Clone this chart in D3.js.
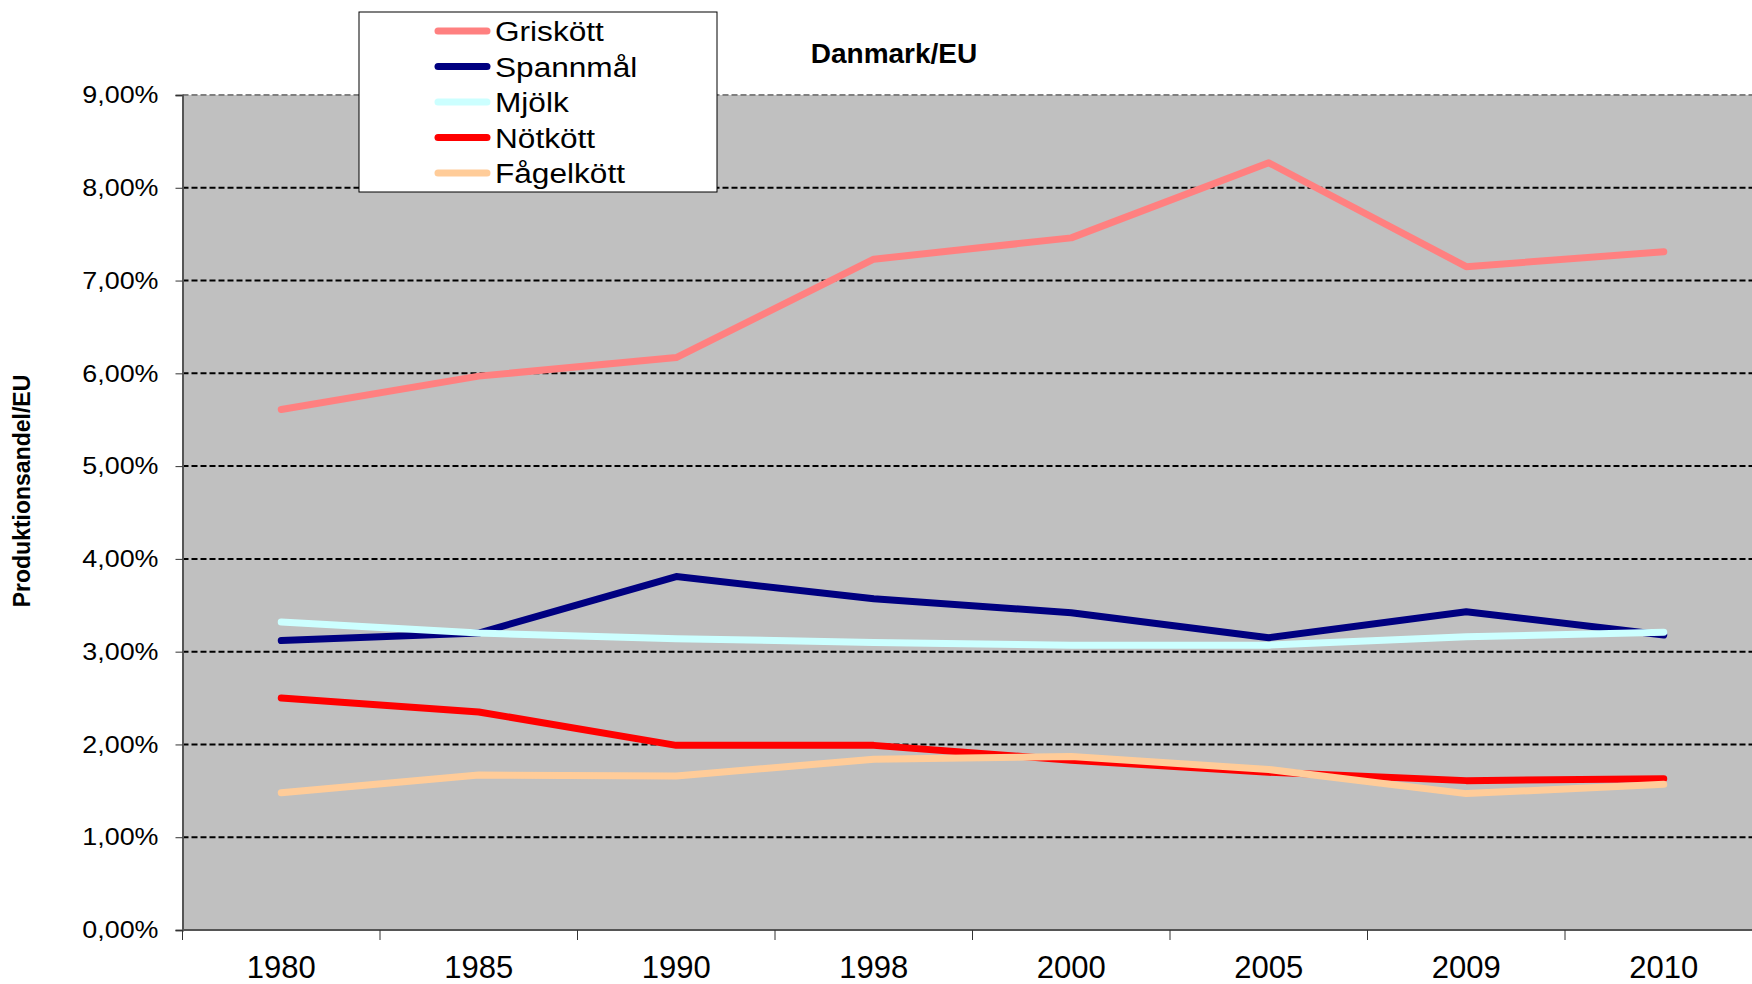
<!DOCTYPE html>
<html lang="sv">
<head>
  <meta charset="UTF-8">
  <title>Danmark/EU</title>
  <script src="https://d3js.org/d3.v7.min.js"></script>
  <style>
    body { margin: 0; background: #fff; }
    text { font-family: "Liberation Sans", Arial, sans-serif; fill: #000; }
  </style>
</head>
<body>
<script>
  // years on the x axis
  const years = ["1980", "1985", "1990", "1998", "2000", "2005", "2009", "2010"];

  // share of EU production, in percent
  const griskott   = [5.61, 5.97, 6.17, 7.23, 7.46, 8.27, 7.15, 7.31];
  const spannmal   = [3.12, 3.20, 3.81, 3.57, 3.42, 3.15, 3.43, 3.18];
  const mjolk      = [3.32, 3.20, 3.14, 3.10, 3.07, 3.07, 3.16, 3.21];
  const notkott    = [2.50, 2.35, 1.99, 1.99, 1.83, 1.70, 1.61, 1.63];
  const fagelkott  = [1.48, 1.67, 1.66, 1.84, 1.87, 1.73, 1.47, 1.57];

  const seriesNames = ["Griskött", "Spannmål", "Mjölk", "Nötkött", "Fågelkött"];
  const seriesValues = [griskott, spannmal, mjolk, notkott, fagelkott];
  const seriesColors = ["#ff8080", "#000080", "#ccffff", "#ff0000", "#ffcc99"];

  const yTicks = [0, 1, 2, 3, 4, 5, 6, 7, 8, 9];

  const width = 1752, height = 984;
  const plotLeft = 182.5, plotTop = 95, plotBottom = 930;

  const svg = d3.select("body").append("svg")
    .attr("width", width)
    .attr("height", height);

  // stretch text horizontally, the original fonts are a bit wide
  function stretch(sel, k) {
    sel.each(function() {
      const w = this.getComputedTextLength();
      d3.select(this).attr("textLength", w * k).attr("lengthAdjust", "spacingAndGlyphs");
    });
  }

  const x = d3.scaleBand()
    .domain(years)
    .range([plotLeft, plotLeft + 197.5 * years.length])
    .padding(0);

  const y = d3.scaleLinear()
    .domain([0, 9])
    .range([plotBottom, plotTop]);

  // plot background
  svg.append("rect")
    .attr("x", plotLeft)
    .attr("y", plotTop)
    .attr("width", width - plotLeft)
    .attr("height", plotBottom - plotTop)
    .attr("fill", "#c0c0c0");

  // gridlines
  svg.append("g")
    .selectAll("line")
    .data(yTicks.filter(d => d > 0))
    .enter().append("line")
    .attr("x1", plotLeft)
    .attr("x2", width)
    .attr("y1", d => y(d))
    .attr("y2", d => y(d))
    .attr("stroke", d => d === 9 ? "#808080" : "#000")
    .attr("stroke-width", 2)
    .attr("stroke-dasharray", "6,3");

  // y axis
  const yAxis = svg.append("g")
    .attr("transform", "translate(" + plotLeft + ",0)")
    .call(d3.axisLeft(y)
      .tickValues(yTicks)
      .tickSize(7)
      .tickPadding(17)
      .tickFormat(d => d.toFixed(2).replace(".", ",") + "%"));
  yAxis.select(".domain").attr("stroke", "#555").attr("stroke-width", 2);
  yAxis.selectAll(".tick line").attr("stroke", "#333");
  yAxis.selectAll(".tick text")
    .style("font-size", "24px")
    .style("font-family", "Liberation Sans, Arial, sans-serif")
    .attr("fill", "#000")
    .call(stretch, 1.12);

  // x axis
  const xAxis = svg.append("g")
    .attr("transform", "translate(0," + plotBottom + ")")
    .call(d3.axisBottom(x).tickSize(0).tickPadding(26));
  xAxis.select(".domain").remove();
  xAxis.selectAll(".tick text")
    .style("font-size", "31px")
    .style("font-family", "Liberation Sans, Arial, sans-serif")
    .attr("fill", "#000");

  svg.append("line")
    .attr("x1", plotLeft)
    .attr("x2", width)
    .attr("y1", plotBottom)
    .attr("y2", plotBottom)
    .attr("stroke", "#555")
    .attr("stroke-width", 2);

  // tick marks between the categories
  svg.append("g")
    .selectAll("line")
    .data(years)
    .enter().append("line")
    .attr("x1", d => x(d))
    .attr("x2", d => x(d))
    .attr("y1", plotBottom)
    .attr("y2", plotBottom + 10)
    .attr("stroke", "#333")
    .attr("stroke-width", 1);

  // lines
  const line = d3.line()
    .x((d, i) => x(years[i]) + x.bandwidth() / 2)
    .y(d => y(d));

  svg.append("g")
    .selectAll("path")
    .data(seriesValues)
    .enter().append("path")
    .attr("d", d => line(d))
    .attr("fill", "none")
    .attr("stroke", (d, i) => seriesColors[i])
    .attr("stroke-width", 7)
    .attr("stroke-linecap", "round")
    .attr("stroke-linejoin", "round");

  // title
  svg.append("text")
    .attr("x", 894)
    .attr("y", 63)
    .attr("text-anchor", "middle")
    .style("font-size", "28px")
    .style("font-weight", "bold")
    .text("Danmark/EU");

  // y axis title
  svg.append("text")
    .attr("transform", "translate(30,491) rotate(-90)")
    .attr("text-anchor", "middle")
    .style("font-size", "23px")
    .style("font-weight", "bold")
    .text("Produktionsandel/EU");

  // legend
  const legend = svg.append("g");
  legend.append("rect")
    .attr("x", 359)
    .attr("y", 12)
    .attr("width", 358)
    .attr("height", 180)
    .attr("fill", "#fff")
    .attr("stroke", "#000")
    .attr("stroke-width", 1);

  const items = legend.selectAll(".legend-item")
    .data(seriesNames)
    .enter().append("g")
    .attr("class", "legend-item")
    .attr("transform", (d, i) => "translate(0," + (31 + i * 35.5) + ")");

  items.append("line")
    .attr("x1", 438)
    .attr("x2", 487)
    .attr("stroke", (d, i) => seriesColors[i])
    .attr("stroke-width", 7)
    .attr("stroke-linecap", "round");

  items.append("text")
    .attr("x", 495)
    .attr("y", 10)
    .style("font-size", "27px")
    .text(d => d)
    .call(stretch, 1.17);
</script>
</body>
</html>
